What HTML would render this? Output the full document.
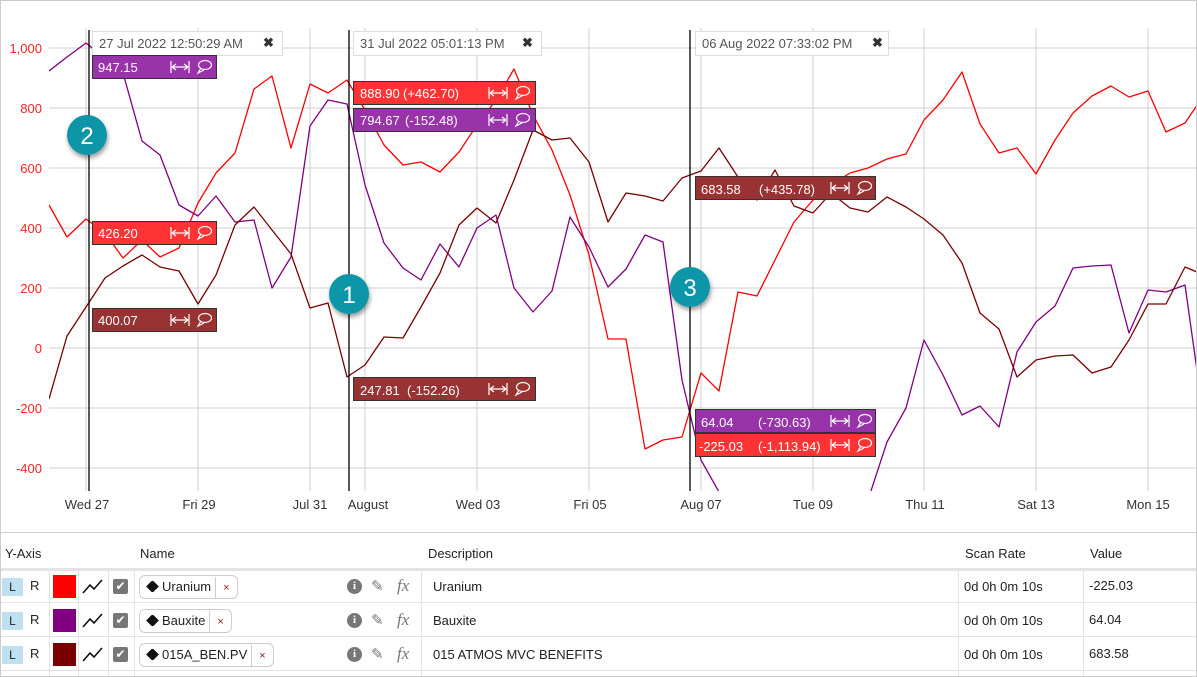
<!DOCTYPE html>
<html><head><meta charset="utf-8"><style>
body{margin:0;width:1197px;height:677px;overflow:hidden;background:#fff;font-family:"Liberation Sans",sans-serif;}
#wrap{position:relative;width:1195px;height:675px;border:1px solid #ccc;overflow:hidden;}
svg text{font-family:"Liberation Sans",sans-serif;}
.t{position:absolute;font-size:13px;color:#222;white-space:nowrap;}
.hl{position:absolute;background:#e3e3e3;}
.L{position:absolute;left:1px;width:21px;height:18px;background:#bfe0f0;font-size:12px;text-align:center;line-height:18px;color:#222}
.sw{position:absolute;left:52px;width:23px;height:23px;}
.cb{position:absolute;left:112px;width:15px;height:15px;background:#777;border-radius:2px;color:#fff;font-size:12px;line-height:15px;text-align:center}
.tag{position:absolute;left:138px;height:22px;border:1px solid #ccc;border-radius:6px;font-size:13px;line-height:22px;color:#222;padding-left:8px}
.tag i{display:inline-block;width:9px;height:9px;background:#111;transform:rotate(45deg);border-radius:2px 0 2px 0;margin-right:5px;vertical-align:0px}
.tag b{font-weight:normal;display:inline-block;border-left:1px solid #ccc;margin-left:4px;padding:0 7px;font-size:11px;color:#822}
.ic{position:absolute;font-size:15px;color:#777}
.inf{position:absolute;left:346px;width:15px;height:15px;border-radius:50%;background:#777;color:#fff;font:bold 11px/15px "Liberation Serif",serif;text-align:center}
</style></head><body><div id="wrap">
<svg width="1197" height="677" style="position:absolute;left:-1px;top:-1px">
<defs><clipPath id="c"><rect x="49" y="28" width="1148" height="463"/></clipPath>
<filter id="sh" x="-50%" y="-50%" width="200%" height="200%"><feDropShadow dx="1" dy="3" stdDeviation="2.5" flood-opacity="0.4"/></filter></defs>
<g stroke="#cfcfcf" stroke-width="1">
<line x1="49" x2="1197" y1="48" y2="48"/><line x1="49" x2="1197" y1="108" y2="108"/><line x1="49" x2="1197" y1="168" y2="168"/><line x1="49" x2="1197" y1="228" y2="228"/><line x1="49" x2="1197" y1="288" y2="288"/><line x1="49" x2="1197" y1="348" y2="348"/><line x1="49" x2="1197" y1="408" y2="408"/><line x1="49" x2="1197" y1="468" y2="468"/>
<line x1="86" x2="86" y1="28" y2="491"/><line x1="198" x2="198" y1="28" y2="491"/><line x1="310" x2="310" y1="28" y2="491"/><line x1="365" x2="365" y1="28" y2="491"/><line x1="477" x2="477" y1="28" y2="491"/><line x1="589" x2="589" y1="28" y2="491"/><line x1="701" x2="701" y1="28" y2="491"/><line x1="813" x2="813" y1="28" y2="491"/><line x1="924" x2="924" y1="28" y2="491"/><line x1="1036" x2="1036" y1="28" y2="491"/><line x1="1148" x2="1148" y1="28" y2="491"/>
</g>
<g font-size="13" fill="#f22" text-anchor="end">
<text x="42" y="53">1,000</text><text x="42" y="113">800</text><text x="42" y="173">600</text><text x="42" y="233">400</text><text x="42" y="293">200</text><text x="42" y="353">0</text><text x="42" y="413">-200</text><text x="42" y="473">-400</text></g>
<g font-size="13" fill="#333" text-anchor="middle">
<text x="87" y="509">Wed 27</text><text x="199" y="509">Fri 29</text><text x="310" y="509">Jul 31</text><text x="368" y="509">August</text><text x="478" y="509">Wed 03</text><text x="590" y="509">Fri 05</text><text x="701" y="509">Aug 07</text><text x="813" y="509">Tue 09</text><text x="925" y="509">Thu 11</text><text x="1036" y="509">Sat 13</text><text x="1148" y="509">Mon 15</text></g>
<g clip-path="url(#c)" fill="none" stroke-width="1.3" stroke-linejoin="round">
<polyline stroke="#f00" points="49,205 67,237 86,219 105,233 123,258 142,240 160,257 179,248 198,203 216,173 235,153 254,89 272,76 291,148 310,84 328,93 347,80 365,110 384,145 403,165 421,162 440,172 459,152 477,125 496,100 514,69 533,115 552,150 570,195 589,255 608,339 626,339 645,449 663,440 682,437 701,373 719,391 738,292 757,296 775,260 794,222 813,200 831,185 850,173 868,168 887,159 906,154 924,120 943,100 962,72 980,124 999,153 1017,148 1036,174 1055,140 1073,113 1092,96 1111,86 1129,97 1148,91 1166,132 1185,123 1204,95"/>
<polyline stroke="#800080" points="49,71 67,57 86,43 105,58 123,73 142,141 160,155 179,205 198,216 216,196 235,222 254,220 272,288 291,257 310,126 328,100 347,104 365,185 384,243 403,268 421,280 440,244 459,267 477,228 496,215 514,288 533,312 552,291 570,217 589,247 608,287 626,269 645,235 663,242 682,380 701,460 719,492 738,560 757,560 775,560 794,560 813,560 831,560 850,560 868,500 887,442 906,408 924,340 943,375 962,415 980,406 999,427 1017,352 1036,322 1055,306 1073,268 1092,266 1111,265 1129,333 1148,290 1166,292 1185,285 1204,420"/>
<polyline stroke="#7a0000" points="49,399 67,336 86,307 105,278 123,266 142,255 160,267 179,271 198,304 216,275 235,225 254,207 272,230 291,254 310,308 328,303 347,377 365,365 384,337 403,338 421,307 440,273 459,225 477,208 496,223 514,180 533,130 552,140 570,138 589,162 608,222 626,193 645,196 663,201 682,178 701,171 719,148 738,177 757,200 775,170 794,206 813,213 831,193 850,208 868,212 887,197 906,207 924,219 943,235 962,263 980,313 999,329 1017,377 1036,360 1055,356 1073,355 1092,373 1111,367 1129,340 1148,304 1166,304 1185,267 1204,275"/>
</g>
<g stroke="#000" stroke-width="1.3"><line x1="89" x2="89" y1="30" y2="491"/><line x1="349" x2="349" y1="30" y2="491"/><line x1="690" x2="690" y1="30" y2="491"/></g>
<g font-size="13" fill="#555">
<rect x="92.5" y="31.5" width="190" height="24" fill="#fff" stroke="#ddd"/><text x="99" y="48">27 Jul 2022 12:50:29 AM</text><text x="263" y="47" font-weight="bold" fill="#333">✖</text>
<rect x="353.5" y="31.5" width="188" height="24" fill="#fff" stroke="#ddd"/><text x="360" y="48">31 Jul 2022 05:01:13 PM</text><text x="522" y="47" font-weight="bold" fill="#333">✖</text>
<rect x="695.5" y="31.5" width="193" height="24" fill="#fff" stroke="#ddd"/><text x="702" y="48">06 Aug 2022 07:33:02 PM</text><text x="872" y="47" font-weight="bold" fill="#333">✖</text>
</g>
<g font-size="13" fill="#fff" stroke-width="1">
<rect x="92.5" y="55.5" width="124" height="23" fill="#9933aa" stroke="#333"/><text x="98" y="72">947.15</text>
<rect x="92.5" y="221.5" width="124" height="23" fill="#ff3333" stroke="#333"/><text x="98" y="238">426.20</text>
<rect x="92.5" y="308.5" width="124" height="23" fill="#993333" stroke="#333"/><text x="98" y="325">400.07</text>
<rect x="353.5" y="81.5" width="182" height="23" fill="#ff3333" stroke="#333"/><text x="360" y="98">888.90</text><text x="403" y="98">(+462.70)</text>
<rect x="353.5" y="108.5" width="182" height="23" fill="#9933aa" stroke="#333"/><text x="360" y="125">794.67</text><text x="405" y="125">(-152.48)</text>
<rect x="353.5" y="377.5" width="182" height="23" fill="#993333" stroke="#333"/><text x="360" y="395">247.81</text><text x="407" y="395">(-152.26)</text>
<rect x="695.5" y="176.5" width="180" height="23" fill="#993333" stroke="#333"/><text x="701" y="194">683.58</text><text x="759" y="194">(+435.78)</text>
<rect x="695.5" y="409.5" width="180" height="23" fill="#9933aa" stroke="#333"/><text x="701" y="427">64.04</text><text x="758" y="427">(-730.63)</text>
<rect x="695.5" y="433.5" width="180" height="23" fill="#ff3333" stroke="#333"/><text x="699" y="451">-225.03</text><text x="758" y="451">(-1,113.94)</text>
</g>
<g stroke="#fff" stroke-width="1.2" fill="none">
<g transform="translate(171,67)"><path d="M0,-6V6M18,-6V6M1,0H17M1,0l4,-3M1,0l4,3M17,0l-4,-3M17,0l-4,3"/><ellipse cx="34" cy="-2" rx="6.5" ry="4.5"/><path d="M30,1l-3,5l6,-3"/></g>
<g transform="translate(171,233)"><path d="M0,-6V6M18,-6V6M1,0H17M1,0l4,-3M1,0l4,3M17,0l-4,-3M17,0l-4,3"/><ellipse cx="34" cy="-2" rx="6.5" ry="4.5"/><path d="M30,1l-3,5l6,-3"/></g>
<g transform="translate(171,320)"><path d="M0,-6V6M18,-6V6M1,0H17M1,0l4,-3M1,0l4,3M17,0l-4,-3M17,0l-4,3"/><ellipse cx="34" cy="-2" rx="6.5" ry="4.5"/><path d="M30,1l-3,5l6,-3"/></g>
<g transform="translate(489,93)"><path d="M0,-6V6M18,-6V6M1,0H17M1,0l4,-3M1,0l4,3M17,0l-4,-3M17,0l-4,3"/><ellipse cx="34" cy="-2" rx="6.5" ry="4.5"/><path d="M30,1l-3,5l6,-3"/></g>
<g transform="translate(489,120)"><path d="M0,-6V6M18,-6V6M1,0H17M1,0l4,-3M1,0l4,3M17,0l-4,-3M17,0l-4,3"/><ellipse cx="34" cy="-2" rx="6.5" ry="4.5"/><path d="M30,1l-3,5l6,-3"/></g>
<g transform="translate(489,389)"><path d="M0,-6V6M18,-6V6M1,0H17M1,0l4,-3M1,0l4,3M17,0l-4,-3M17,0l-4,3"/><ellipse cx="34" cy="-2" rx="6.5" ry="4.5"/><path d="M30,1l-3,5l6,-3"/></g>
<g transform="translate(831,188)"><path d="M0,-6V6M18,-6V6M1,0H17M1,0l4,-3M1,0l4,3M17,0l-4,-3M17,0l-4,3"/><ellipse cx="34" cy="-2" rx="6.5" ry="4.5"/><path d="M30,1l-3,5l6,-3"/></g>
<g transform="translate(831,421)"><path d="M0,-6V6M18,-6V6M1,0H17M1,0l4,-3M1,0l4,3M17,0l-4,-3M17,0l-4,3"/><ellipse cx="34" cy="-2" rx="6.5" ry="4.5"/><path d="M30,1l-3,5l6,-3"/></g>
<g transform="translate(831,445)"><path d="M0,-6V6M18,-6V6M1,0H17M1,0l4,-3M1,0l4,3M17,0l-4,-3M17,0l-4,3"/><ellipse cx="34" cy="-2" rx="6.5" ry="4.5"/><path d="M30,1l-3,5l6,-3"/></g>
</g>
<g filter="url(#sh)" fill="#0e95a8"><circle cx="87" cy="135" r="20"/><circle cx="349" cy="294" r="20"/><circle cx="690" cy="287" r="20"/></g>
<g fill="#fff" font-size="24" text-anchor="middle"><text x="87" y="144">2</text><text x="349" y="303">1</text><text x="690" y="296">3</text></g>
</svg>
<div class="hl" style="left:0;top:531px;width:1197px;height:1px;background:#d0d0d0"></div>
<div class="hl" style="left:0;top:567px;width:1197px;height:3px"></div>
<div class="hl" style="left:0;top:601px;width:1197px;height:1px"></div>
<div class="hl" style="left:0;top:635px;width:1197px;height:1px"></div>
<div class="hl" style="left:0;top:669px;width:1197px;height:1px"></div>
<div class="hl" style="left:48px;top:570px;width:1px;height:107px"></div>
<div class="hl" style="left:77px;top:570px;width:1px;height:107px"></div>
<div class="hl" style="left:107px;top:570px;width:1px;height:107px"></div>
<div class="hl" style="left:133px;top:570px;width:1px;height:107px"></div>
<div class="hl" style="left:420px;top:570px;width:1px;height:107px"></div>
<div class="hl" style="left:957px;top:570px;width:1px;height:107px"></div>
<div class="hl" style="left:1082px;top:570px;width:1px;height:107px"></div>
<div class="t" style="left:4px;top:545px">Y-Axis</div>
<div class="t" style="left:139px;top:545px">Name</div>
<div class="t" style="left:427px;top:545px">Description</div>
<div class="t" style="left:964px;top:545px">Scan Rate</div>
<div class="t" style="left:1089px;top:545px">Value</div>

<div class="L" style="top:577px">L</div><div class="t" style="left:29px;top:577px">R</div>
<div class="sw" style="top:574px;background:#f00"></div>
<div class="L" style="top:611px">L</div><div class="t" style="left:29px;top:611px">R</div>
<div class="sw" style="top:608px;background:#800080"></div>
<div class="L" style="top:645px">L</div><div class="t" style="left:29px;top:645px">R</div>
<div class="sw" style="top:642px;background:#7a0000"></div>
<svg width="25" height="110" style="position:absolute;left:81px;top:575px" fill="none" stroke="#111" stroke-width="1.6"><path d="M1,17L8,9L12,13L20,4"/><path d="M1,51L8,43L12,47L20,38"/><path d="M1,85L8,77L12,81L20,72"/></svg>
<div class="cb" style="top:578px">✔</div><div class="cb" style="top:612px">✔</div><div class="cb" style="top:646px">✔</div>
<div class="tag" style="top:574px"><i></i>Uranium<b>×</b></div>
<div class="tag" style="top:608px"><i></i>Bauxite<b>×</b></div>
<div class="tag" style="top:642px"><i></i>015A_BEN.PV<b>×</b></div>
<div class="inf" style="top:578px">i</div><div class="ic" style="left:370px;top:576px">✎</div><div class="ic" style="left:396px;top:575px;font-family:'Liberation Serif',serif;font-style:italic;font-size:17px">fx</div>
<div class="inf" style="top:612px">i</div><div class="ic" style="left:370px;top:610px">✎</div><div class="ic" style="left:396px;top:609px;font-family:'Liberation Serif',serif;font-style:italic;font-size:17px">fx</div>
<div class="inf" style="top:646px">i</div><div class="ic" style="left:370px;top:644px">✎</div><div class="ic" style="left:396px;top:643px;font-family:'Liberation Serif',serif;font-style:italic;font-size:17px">fx</div>
<div class="t" style="left:432px;top:578px">Uranium</div>
<div class="t" style="left:432px;top:612px">Bauxite</div>
<div class="t" style="left:432px;top:646px">015 ATMOS MVC BENEFITS</div>
<div class="t" style="left:963px;top:578px">0d 0h 0m 10s</div>
<div class="t" style="left:963px;top:612px">0d 0h 0m 10s</div>
<div class="t" style="left:963px;top:646px">0d 0h 0m 10s</div>
<div class="t" style="left:1088px;top:577px">-225.03</div>
<div class="t" style="left:1088px;top:611px">64.04</div>
<div class="t" style="left:1088px;top:645px">683.58</div>
</div></body></html>
